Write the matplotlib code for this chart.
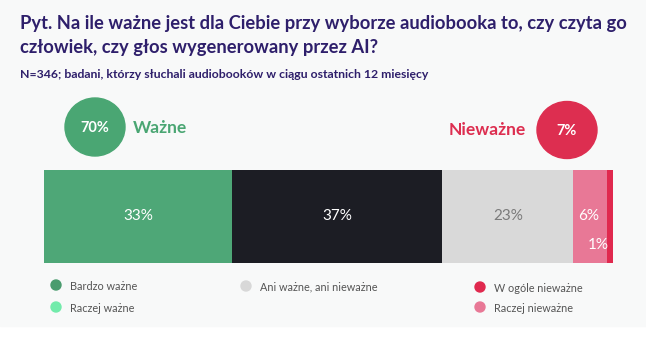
import matplotlib
matplotlib.use("Agg")
import matplotlib.pyplot as plt
from matplotlib.patches import Rectangle, Ellipse

plt.rcParams['font.family'] = ['Lato', 'DejaVu Sans']

# dane
kategorie = ['Bardzo ważne', 'Raczej ważne', 'Ani ważne, ani nieważne', 'Raczej nieważne', 'W ogóle nieważne']
wartosci = [33, 37, 23, 6, 1]
kolory_slupka = ['#4ea777', '#1c1d24', '#d9d9d9', '#e87896', '#e0294e']
kolory_tekstu = ['white', 'white', '#7a7a7a', 'white', 'white']
kolory_legendy = ['#4a9c6e', '#72ebab', '#d8d8d8', '#e0294e', '#e87896']
legenda = ['Bardzo ważne', 'Raczej ważne', 'Ani ważne, ani nieważne', 'W ogóle nieważne', 'Raczej nieważne']
wazne = 70
niewazne = 7

W, H = 646, 337
fig = plt.figure(figsize=(W / 100, H / 100), dpi=100, facecolor='white')

# warstwa tla / tekstow w pikselach
bg = fig.add_axes([0, 0, 1, 1])
bg.set_xlim(0, W)
bg.set_ylim(H, 0)
bg.axis('off')
bg.add_patch(Rectangle((0, 0), W, 326, color='#f8f9f9', zorder=0))

fioletowy = '#2e1f6b'
bg.text(20, 23, 'Pyt. Na ile ważne jest dla Ciebie przy wyborze audiobooka to, czy czyta go',
        fontsize=13.2, fontweight='bold', color=fioletowy, va='center')
bg.text(20, 48, 'człowiek, czy głos wygenerowany przez AI?',
        fontsize=13.2, fontweight='bold', color=fioletowy, va='center')
bg.text(20, 74, 'N=346; badani, którzy słuchali audiobooków w ciągu ostatnich 12 miesięcy',
        fontsize=8.8, fontweight='bold', color=fioletowy, va='center')

# kolka z podsumowaniem
bg.add_patch(Ellipse((95, 127), 60, 58, color='#4aa673'))
bg.text(95, 128, f'{wazne}%', fontsize=10.5, fontweight='bold', color='white', ha='center', va='center')
bg.text(133, 128, 'Ważne', fontsize=12.5, fontweight='bold', color='#4aa673', va='center')
bg.add_patch(Ellipse((567, 130), 60, 57, color='#dd2e50'))
bg.text(567, 131, f'{niewazne}%', fontsize=10.5, fontweight='bold', color='white', ha='center', va='center')
bg.text(526, 130, 'Nieważne', fontsize=12.5, fontweight='bold', color='#dd2e50', va='center', ha='right')

# slupek skumulowany
ax = fig.add_axes([44 / W, (H - 263) / H, 569 / W, 93 / H])
lewy = 0
pozycje = []
for v, c in zip(wartosci, kolory_slupka):
    ax.barh(0, v, left=lewy, color=c, height=1)
    pozycje.append(lewy + v / 2)
    lewy += v
ax.set_xlim(0, sum(wartosci))
ax.set_ylim(-0.5, 0.5)
ax.axis('off')

for i in range(3):
    ax.text(pozycje[i], 0, f'{wartosci[i]}%', color=kolory_tekstu[i], fontsize=11,
            ha='center', va='center')
start_pink = sum(wartosci[:3])
ax.text(start_pink + 0.9, 0.0, f'{wartosci[3]}%', color='white', fontsize=11, ha='left', va='center')
ax.text(sum(wartosci) - 0.8, -0.31, f'{wartosci[4]}%', color='white', fontsize=11, ha='right', va='center')

# legenda
leg_xy = [(56, 285), (56, 307), (246, 286), (480, 287), (480, 307)]
for (x, y), lab, c in zip(leg_xy, legenda, kolory_legendy):
    bg.add_patch(Ellipse((x, y), 10, 10, color=c))
    bg.text(x + 14, y + 1, lab, fontsize=7.8, color='#555555', va='center')

fig.savefig('out.png', dpi=100, facecolor='white')
